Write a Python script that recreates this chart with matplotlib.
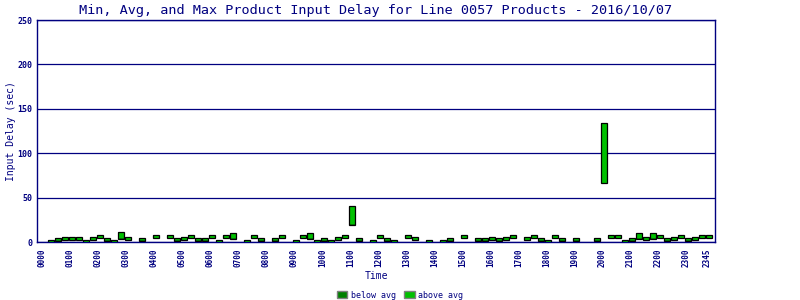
import numpy as np
import matplotlib
matplotlib.use("Agg")
import matplotlib.pyplot as plt
from matplotlib.patches import Patch

# time slots every 15 min, 0000 .. 2345
slots = [f"{h:02d}{m:02d}" for h in range(24) for m in (0, 15, 30, 45)]

# per-slot min / avg / max input delay (sec), None = no product
nan = None
mins = [nan, 0, 1.5, 2.3, 2.3, 2.3, 0, 2.3, 4.2, 1.5,
        0, 3.4, 2.3, nan, 1.5, nan, 4.2, nan, 4.2, 1.5,
        2.3, 4.2, 1.5, 1.5, 4.2, 0, 4.2, 3.7, nan, 0,
        4.2, 1.5, nan, 1.5, 4.2, nan, 0, 4.2, 3.7, 0,
        1.5, 0, 2.3, 4.2, 19, 1.5, nan, 0, 4.2, 1.5,
        0, nan, 4.2, 2.3, nan, 0, nan, 0, 1.5, nan,
        4.2, nan, 1.5, 1.5, 2.3, 1.5, 2.3, 4.2, nan, 2.3,
        4.2, 1.5, 0, 4.2, 1.5, nan, 1.5, nan, nan, 1.5,
        66, 4.2, 4.2, 0, 1.5, 3.7, 2.3, 3.7, 4.2, 1.5,
        2.3, 4.2, 1.5, 2.3, 4.2, 4.2]
avgs = [nan, 0.5, 2.0, 2.8, 2.8, 2.8, 0.5, 2.8, 4.8, 2.0,
        0.5, 4.2, 2.8, nan, 2.0, nan, 4.8, nan, 4.8, 2.0,
        2.8, 4.8, 2.0, 2.0, 4.8, 0.5, 4.8, 4.4, nan, 0.5,
        4.8, 2.0, nan, 2.0, 4.8, nan, 0.5, 4.8, 4.4, 0.5,
        2.0, 0.5, 2.8, 4.8, 20, 2.0, nan, 0.5, 4.8, 2.0,
        0.5, nan, 4.8, 2.8, nan, 0.5, nan, 0.5, 2.0, nan,
        4.8, nan, 2.0, 2.0, 2.8, 2.0, 2.8, 4.8, nan, 2.8,
        4.8, 2.0, 0.5, 4.8, 2.0, nan, 2.0, nan, nan, 2.0,
        67, 4.8, 4.8, 0.5, 2.0, 4.4, 2.8, 4.4, 4.8, 2.0,
        2.8, 4.8, 2.0, 2.8, 4.8, 4.8]
maxs = [nan, 1.8, 4.5, 5.6, 5.6, 5.6, 1.8, 5.6, 7.9, 4.5,
        1.8, 11.3, 5.6, nan, 4.5, nan, 7.9, nan, 7.9, 4.5,
        5.6, 7.9, 4.5, 4.5, 7.9, 1.8, 7.9, 10, nan, 1.8,
        7.9, 4.5, nan, 4.5, 7.9, nan, 1.8, 7.9, 10, 1.8,
        4.5, 1.8, 5.6, 7.9, 41, 4.5, nan, 1.8, 7.9, 4.5,
        1.8, nan, 7.9, 5.6, nan, 1.8, nan, 1.8, 4.5, nan,
        7.9, nan, 4.5, 4.5, 5.6, 4.5, 5.6, 7.9, nan, 5.6,
        7.9, 4.5, 1.8, 7.9, 4.5, nan, 4.5, nan, nan, 4.5,
        134, 7.9, 7.9, 1.8, 4.5, 10, 5.6, 10, 7.9, 4.5,
        5.6, 7.9, 4.5, 5.6, 7.9, 7.9]

navy = "#000080"
below_col = "#008000"
above_col = "#00c000"
mono = "DejaVu Sans Mono"

x = np.arange(len(slots))
lo = np.array([np.nan if v is None else v for v in mins], dtype=float)
mid = np.array([np.nan if v is None else v for v in avgs], dtype=float)
hi = np.array([np.nan if v is None else v for v in maxs], dtype=float)
ok = ~np.isnan(lo)

fig = plt.figure(figsize=(8, 3), dpi=100)
ax = fig.add_axes([37 / 800, 1 - 242 / 300, 678 / 800, 222 / 300])

w = 6 / 7
ax.bar(x[ok], mid[ok] - lo[ok], bottom=lo[ok], width=w, align="edge",
       color=below_col, linewidth=0, zorder=3)
ax.bar(x[ok], hi[ok] - mid[ok], bottom=mid[ok], width=w, align="edge",
       color=above_col, linewidth=0, zorder=3)
ax.bar(x[ok], hi[ok] - lo[ok], bottom=lo[ok], width=w, align="edge",
       facecolor="none", edgecolor="black", linewidth=0.9, zorder=4)

ax.set_xlim(-4 / 7, 674 / 7)
ax.set_ylim(0, 250)
ax.set_yticks(range(0, 251, 50))
ax.yaxis.grid(True, color=navy, linewidth=0.9)
ax.set_axisbelow(True)
for s in ax.spines.values():
    s.set_color(navy)
    s.set_linewidth(1)

tick_idx = [i for i in range(0, 96, 4)] + [95]
ax.set_xticks([i + 0.2 for i in tick_idx])
ax.set_xticklabels([slots[i] for i in tick_idx], rotation=90, fontsize=5.5,
                   family=mono, fontweight="bold", color=navy)
ax.tick_params(axis="x", length=0, pad=4.5)
ax.tick_params(axis="y", length=0, pad=3.6, labelsize=6, labelcolor=navy)
for t in ax.get_yticklabels():
    t.set_family(mono)
    t.set_fontweight("bold")

ax.set_ylabel("Input Delay (sec)", family=mono, fontsize=7, color=navy, labelpad=1)
ax.set_xlabel("Time", family=mono, fontsize=7, color=navy, labelpad=3)
ax.set_title("Min, Avg, and Max Product Input Delay for Line 0057 Products - 2016/10/07",
             family=mono, fontsize=9.7, color=navy, pad=4)

handles = [Patch(facecolor=below_col, edgecolor="gray", label="below avg"),
           Patch(facecolor=above_col, edgecolor="gray", label="above avg")]
leg = fig.legend(handles=handles, loc="center", bbox_to_anchor=(0.5, 1 - 295 / 300),
                 ncol=2, frameon=False, prop={"family": mono, "size": 6},
                 handlelength=1.3, handleheight=1.0, handletextpad=0.4,
                 columnspacing=1.0)
for t in leg.get_texts():
    t.set_color(navy)

fig.savefig("out.png", dpi=100)
